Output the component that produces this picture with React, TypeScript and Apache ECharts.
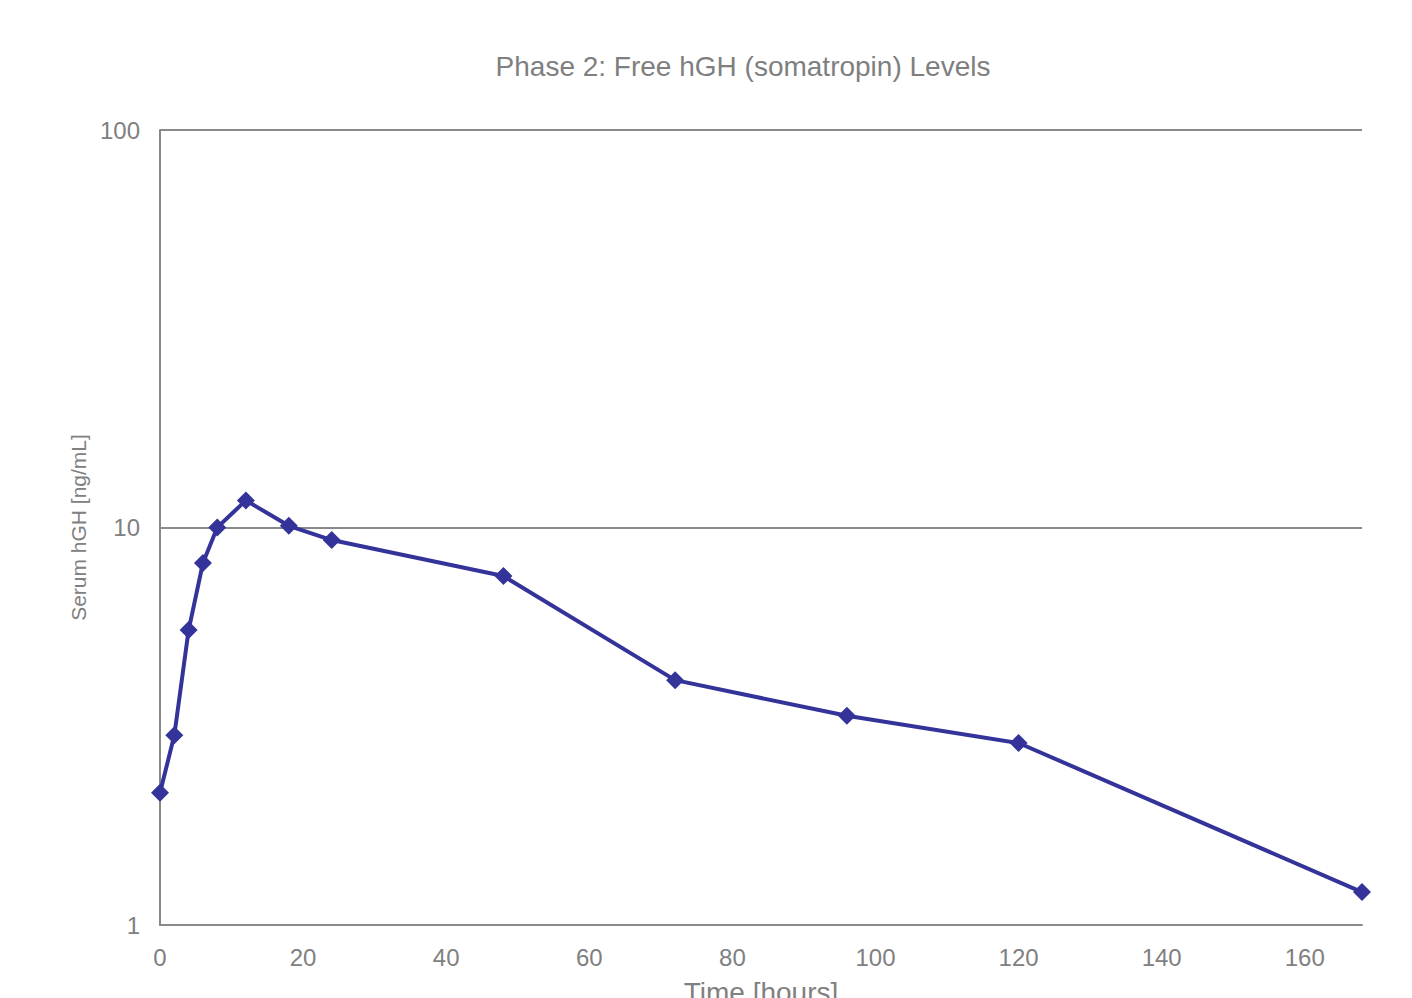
import React, { useEffect, useRef } from "react";
import * as echarts from "echarts";

const hours = [0, 2, 4, 6, 8, 12, 18, 24, 48, 72, 96, 120, 168];
const levels = [2.15, 3.0, 5.52, 8.14, 10.0, 11.7, 10.1, 9.3, 7.55, 4.13, 3.36, 2.87, 1.21];
const titleText = "Phase 2: Free hGH (somatropin) Levels";
const xName = "Time [hours]";
const yName = "Serum hGH [ng/mL]";

export default function App() {
  const ref = useRef<HTMLDivElement>(null);
  useEffect(() => {
    if (!ref.current) return;
    const chart = echarts.init(ref.current, undefined, { renderer: "svg" });
    const gray = "#898989";
    const font = "'Liberation Sans', Arial, sans-serif";
    chart.setOption({
      animation: false,
      backgroundColor: "#ffffff",
      title: {
        text: titleText,
        left: 738,
        top: 47,
        textAlign: "center",
        textStyle: { color: "#7f7f7f", fontSize: 28, fontWeight: "normal", fontFamily: font },
      },
      grid: {
        left: 160,
        width: 1202,
        top: 130,
        height: 795,
        containLabel: false,
        outerBoundsMode: "none",
      },
      xAxis: {
        type: "value",
        min: 0,
        max: 168,
        interval: 20,
        name: xName,
        nameLocation: "middle",
        nameGap: 53,
        nameTextStyle: { color: "#808080", fontSize: 28, fontFamily: font },
        axisLine: { show: true, lineStyle: { color: gray, width: 2 } },
        axisTick: { show: false },
        splitLine: { show: false },
        axisLabel: { color: "#808080", fontSize: 24, fontFamily: font, margin: 20, showMaxLabel: false },
      },
      yAxis: {
        type: "log",
        logBase: 10,
        min: 1,
        max: 100,
        name: yName,
        nameLocation: "middle",
        nameGap: 68,
        nameRotate: 90,
        nameTextStyle: { color: "#808080", fontSize: 21, fontFamily: font },
        axisLine: { show: true, lineStyle: { color: gray, width: 2 } },
        axisTick: { show: false },
        splitLine: { show: true, lineStyle: { color: gray, width: 2 } },
        axisLabel: { color: "#808080", fontSize: 24, fontFamily: font, margin: 20 },
      },
      series: [
        {
          type: "line",
          data: hours.map((h, i) => [h, levels[i]]),
          symbol: "diamond",
          symbolSize: 18,
          lineStyle: { color: "#333399", width: 4 },
          itemStyle: { color: "#333399" },
        },
      ],
    });
    return () => chart.dispose();
  }, []);
  return (
    <div
      ref={ref}
      style={{ position: "fixed", left: 0, top: 0, width: 1412, height: 998, background: "#fff" }}
    />
  );
}
